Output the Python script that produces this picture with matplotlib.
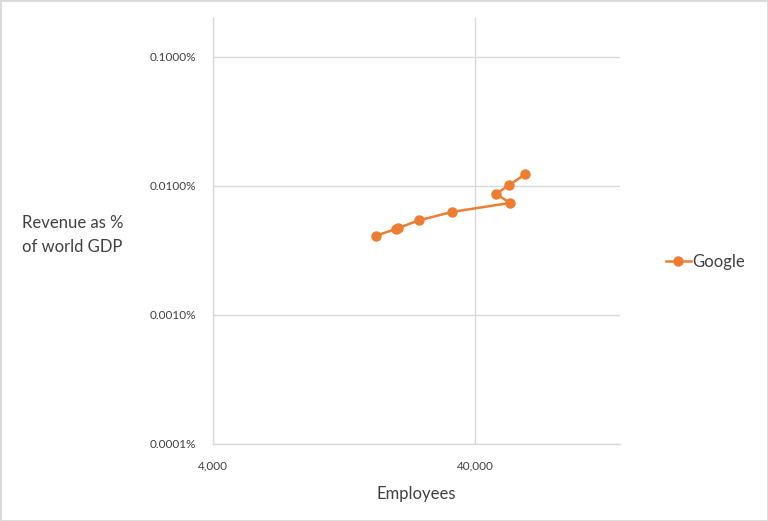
import matplotlib.pyplot as plt
from matplotlib.ticker import FuncFormatter, FixedLocator, NullLocator
from matplotlib.patches import Rectangle

# Google: employees vs revenue as % of world GDP
employees = [16800, 20000, 20400, 24500, 32800, 54400, 48100, 53900, 62200]
revenue_pct = [0.00412, 0.00464, 0.00472, 0.00542, 0.00629, 0.00738, 0.00867, 0.01013, 0.01233]
series_name = 'Google'

x_ticks = [4000, 40000]
y_ticks = [0.0001, 0.001, 0.01, 0.1]

orange = '#ED7D31'
grid_col = '#D9D9D9'
text_col = '#404040'

plt.rcParams['font.family'] = ['Lato', 'DejaVu Sans']

fig = plt.figure(figsize=(7.68, 5.21), dpi=100)
ax = fig.add_axes([213 / 768, 77 / 521, 407 / 768, 426 / 521])

ax.plot(employees, revenue_pct, color=orange, marker='o', markersize=6.5,
        linewidth=1.8, label=series_name)

ax.set_xscale('log')
ax.set_yscale('log')
ax.set_xlim(4000, 143000)
ax.set_ylim(0.0001, 0.2)

ax.xaxis.set_major_locator(FixedLocator(x_ticks))
ax.xaxis.set_minor_locator(NullLocator())
ax.yaxis.set_major_locator(FixedLocator(y_ticks))
ax.yaxis.set_minor_locator(NullLocator())
ax.xaxis.set_major_formatter(FuncFormatter(lambda v, p: f'{v:,.0f}'))
ax.yaxis.set_major_formatter(FuncFormatter(lambda v, p: f'{v:.4f}%'))

ax.grid(True, color=grid_col, linewidth=1)
ax.set_axisbelow(True)
for s in ['top', 'right']:
    ax.spines[s].set_visible(False)
for s in ['left', 'bottom']:
    ax.spines[s].set_color(grid_col)
    ax.spines[s].set_linewidth(1)
ax.tick_params(length=0, labelsize=8.5, labelcolor=text_col)
ax.tick_params(axis='x', pad=12)
ax.tick_params(axis='y', pad=12)

ax.set_xlabel('Employees', fontsize=12, color=text_col, labelpad=10)
fig.text(22 / 768, 1 - 235 / 521, 'Revenue as %\nof world GDP', fontsize=12,
         color=text_col, ha='left', va='center', linespacing=1.6)

ax.legend(loc='center left', bbox_to_anchor=(1.075, 0.427), frameon=False,
          fontsize=12, labelcolor=text_col, handlelength=1.5, handletextpad=0.1)

fig.patches.append(Rectangle((0, 0), 1, 1, transform=fig.transFigure,
                             fill=False, edgecolor='#D9D9D9', linewidth=2))

fig.savefig('out.png', dpi=100)
